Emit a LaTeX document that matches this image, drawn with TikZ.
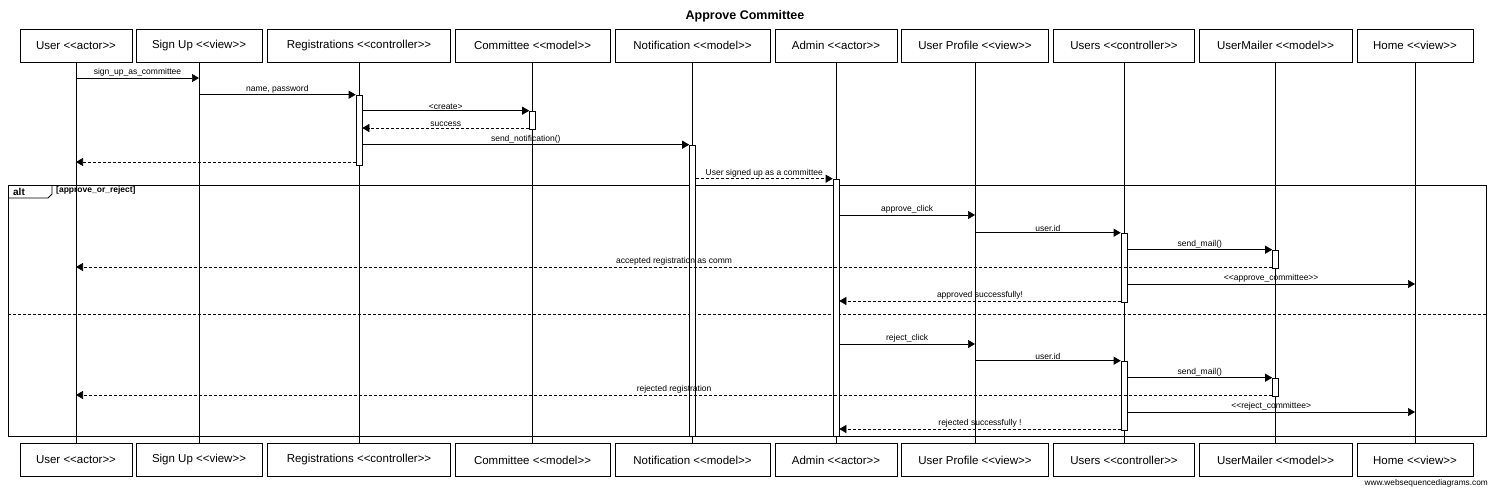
\documentclass[tikz,border=0pt]{standalone}
\usepackage{fontspec}
\setmainfont{Liberation Sans}
\usetikzlibrary{arrows.meta, positioning}

\newcommand{\stereo}[1]{<\kern0pt<#1>\kern0pt>}

\begin{document}
\begin{tikzpicture}[x=1pt, y=-1pt,
    obj/.style={draw, fill=white, line width=0.6pt, minimum height=33pt, inner sep=0pt, font=\fontsize{11.5}{13}\selectfont},
    life/.style={line width=0.6pt},
    bar/.style={draw, fill=white, line width=0.6pt, minimum width=6pt, inner sep=0pt},
    msg/.style={line width=0.6pt, -{Triangle[length=7pt,width=8pt]}},
    ret/.style={msg, dash pattern=on 3pt off 2pt},
    lbl/.style={font=\fontsize{8.5}{10}\selectfont, inner sep=1pt, above}]
        \useasboundingbox (0,0) rectangle (1490,488);
        \node[font=\bfseries\fontsize{12.5}{14}\selectfont] (title) at (745,16) {Approve Committee};

        % Define the participants
        \node[obj, minimum width=112pt] (user) at (76,45.5) {User \stereo{actor}};
        \node[obj, minimum width=126pt] (signup) at (199,45.5) {Sign Up \stereo{view}};
        \node[obj, minimum width=183pt] (reg) at (359,45.5) {Registrations \stereo{controller}};
        \node[obj, minimum width=155pt] (com) at (532.5,45.5) {Committee \stereo{model}};
        \node[obj, minimum width=155pt] (notif) at (692.5,45.5) {Notification \stereo{model}};
        \node[obj, minimum width=122pt] (admin) at (836,45.5) {Admin \stereo{actor}};
        \node[obj, minimum width=147pt] (profile) at (975,45.5) {User Profile \stereo{view}};
        \node[obj, minimum width=141pt] (users) at (1124,45.5) {Users \stereo{controller}};
        \node[obj, minimum width=153pt] (mailer) at (1275.5,45.5) {UserMailer \stereo{model}};
        \node[obj, minimum width=116pt] (home) at (1415,45.5) {Home \stereo{view}};

        \node[obj, minimum width=112pt] (user b) at (76,460) {User \stereo{actor}};
        \node[obj, minimum width=126pt] (signup b) at (199,460) {Sign Up \stereo{view}};
        \node[obj, minimum width=183pt] (reg b) at (359,460) {Registrations \stereo{controller}};
        \node[obj, minimum width=155pt] (com b) at (532.5,460) {Committee \stereo{model}};
        \node[obj, minimum width=155pt] (notif b) at (692.5,460) {Notification \stereo{model}};
        \node[obj, minimum width=122pt] (admin b) at (836,460) {Admin \stereo{actor}};
        \node[obj, minimum width=147pt] (profile b) at (975,460) {User Profile \stereo{view}};
        \node[obj, minimum width=141pt] (users b) at (1124,460) {Users \stereo{controller}};
        \node[obj, minimum width=153pt] (mailer b) at (1275.5,460) {UserMailer \stereo{model}};
        \node[obj, minimum width=116pt] (home b) at (1415,460) {Home \stereo{view}};

        % Lifelines
        \foreach \p in {user, signup, reg, com, notif, admin, profile, users, mailer, home}
            \draw[life] (\p.south) -- (\p\space b.north);

        % Alt frame
        \draw[line width=1pt] (8,185) rectangle (1486,436);
        \draw[line width=0.8pt] (8,198) -- (48,198) -- (52,194) -- (52,185);
        \node[font=\bfseries\fontsize{10}{11}\selectfont] (alt) at (19,191.5) {alt};
        \node[font=\bfseries\fontsize{8.5}{9}\selectfont, anchor=west, inner sep=0pt] (guard) at (56,190.5) {[approve\_or\_reject]};
        \draw[line width=1pt, dash pattern=on 3pt off 2pt] (8,314) -- (1486,314);

        % Activation bars
        \node[bar, minimum height=70pt] (regbar) at (359,130) {};
        \node[bar, minimum height=18pt] (combar) at (532.5,120) {};
        \node[bar, minimum height=291pt] (notifbar) at (692.5,290.5) {};
        \node[bar, minimum height=257pt] (adminbar) at (836,307.5) {};
        \node[bar, minimum height=69pt] (usersbar1) at (1124,267.5) {};
        \node[bar, minimum height=69pt] (usersbar2) at (1124,395.5) {};
        \node[bar, minimum height=18pt] (mailbar1) at (1275.5,259) {};
        \node[bar, minimum height=18pt] (mailbar2) at (1275.5,387) {};

        % Define the messages
        \draw[msg] (user |- 0,78) -- node[lbl] {sign\_up\_as\_committee} (signup |- 0,78);
        \draw[msg] (signup |- regbar.north) -- node[lbl] {name, password} (regbar.north west);
        \draw[msg] (regbar.east |- combar.north) -- node[lbl] {<create>} (combar.north west);
        \draw[ret] (combar.west |- 0,128) -- node[lbl] {success} (regbar.east |- 0,128);
        \draw[msg] (regbar.east |- notifbar.north) -- node[lbl] {send\_notification()} (notifbar.north west);
        \draw[ret] (regbar.west |- 0,162) -- (user |- 0,162);
        \draw[ret] (notifbar.east |- adminbar.north) -- node[lbl] {User signed up as a committee} (adminbar.north west);

        \draw[msg] (adminbar.east |- 0,215) -- node[lbl] {approve\_click} (profile |- 0,215);
        \draw[msg] (profile |- usersbar1.north) -- node[lbl] {user.id} (usersbar1.north west);
        \draw[msg] (usersbar1.east |- mailbar1.north) -- node[lbl] {send\_mail()} (mailbar1.north west);
        \draw[ret] (mailbar1.west |- 0,267) -- node[lbl] {accepted registration as comm} (user |- 0,267);
        \draw[msg] (usersbar1.east |- 0,284) -- node[lbl] {\stereo{approve\_committee}} (home |- 0,284);
        \draw[ret] (usersbar1.west |- 0,301) -- node[lbl] {approved successfully!} (adminbar.east |- 0,301);

        \draw[msg] (adminbar.east |- 0,344) -- node[lbl] {reject\_click} (profile |- 0,344);
        \draw[msg] (profile |- usersbar2.north) -- node[lbl] {user.id} (usersbar2.north west);
        \draw[msg] (usersbar2.east |- mailbar2.north) -- node[lbl] {send\_mail()} (mailbar2.north west);
        \draw[ret] (mailbar2.west |- 0,395) -- node[lbl] {rejected registration} (user |- 0,395);
        \draw[msg] (usersbar2.east |- 0,412) -- node[lbl] {<\kern0pt<reject\_committee>} (home |- 0,412);
        \draw[ret] (usersbar2.west |- 0,429) -- node[lbl] {rejected successfully !} (adminbar.east |- 0,429);

        \node[font=\fontsize{8.3}{9}\selectfont, anchor=east, inner sep=0pt] (www) at (1488,483) {www.websequencediagrams.com};
\end{tikzpicture}
\end{document}
